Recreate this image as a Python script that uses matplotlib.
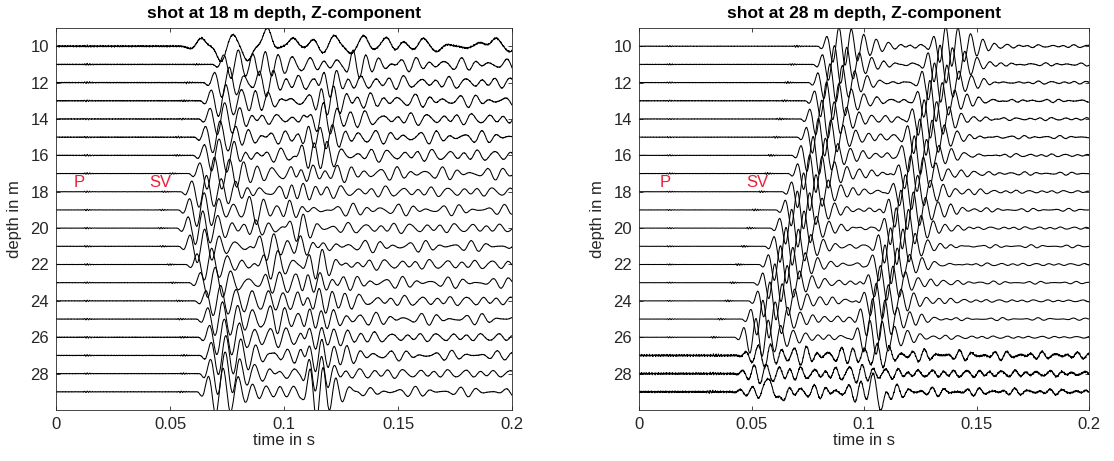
import numpy as np
import matplotlib.pyplot as plt

plt.rcParams['font.family'] = ['Liberation Sans', 'DejaVu Sans']

# receiver depths (m) and time axis (s)
depths = list(range(10, 30))
t = np.arange(0, 0.2, 1 / 20000)

# ---- shot at 18 m: picked times (s) and amplitudes (trace units) ----
left_sv_t = [0.0724, 0.070, 0.066, 0.0645, 0.064, 0.062, 0.0615, 0.0595, 0.056, 0.055,
             0.0544, 0.0552, 0.0583, 0.0598, 0.0622, 0.063, 0.0638, 0.0645, 0.0642, 0.0633]
left_sv_a = [0.0, 0.8, 0.85, 0.9, 0.9, 0.9, 0.9, 0.9, 0.9, 0.95,
             0.95, 0.95, 0.9, 0.85, 0.85, 0.95, 1.0, 1.1, 1.2, 1.3]
left_mid_t = [0.090, 0.088, 0.086, 0.084, 0.082, 0.080, 0.079, 0.078, 0.080, 0.082,
              0.084, 0.086, 0.088, 0.089, 0.090, 0.091, 0.092, 0.093, 0.094, 0.095]
left_mid_a = [0.0, 0.6, 0.6, 0.55, 0.5, 0.5, 0.5, 0.45, 0.45, 0.5,
              0.5, 0.5, 0.5, 0.5, 0.45, 0.4, 0.35, 0.3, 0.3, 0.3]
left_late_t = [0.130, 0.127, 0.1145, 0.113, 0.109, 0.1075, 0.105, 0.104, 0.100, 0.099,
               0.100, 0.104, 0.108, 0.107, 0.107, 0.108, 0.108, 0.108, 0.108, 0.1085]
left_late_a = [0.0, 0.8, 0.9, 0.9, 0.85, 0.8, 0.7, 0.6, 0.55, 0.55,
               0.5, 0.5, 0.55, 0.6, 0.7, 0.8, 0.9, 1.0, 1.1, 1.2]
left_coda_a = [0.0, 0.4, 0.4, 0.4, 0.4, 0.4, 0.4, 0.4, 0.35, 0.35,
               0.35, 0.35, 0.35, 0.35, 0.35, 0.35, 0.3, 0.3, 0.3, 0.3]
left_noise = [0.04, 0.02, 0.02, 0.02, 0.018, 0.018, 0.015, 0.01, 0.008, 0.008,
              0.008, 0.01, 0.01, 0.01, 0.012, 0.012, 0.015, 0.015, 0.012, 0.012]
# trace at 10 m picked peak by peak: times and deflections
left_top_t = [0.0595, 0.0636, 0.0724, 0.0775, 0.084, 0.0928, 0.0958, 0.104, 0.109, 0.113,
              0.117, 0.122, 0.1294, 0.135, 0.139, 0.145, 0.149, 0.152, 0.157, 0.161,
              0.167, 0.1716, 0.180, 0.186, 0.193, 0.199]
left_top_a = [0.15, -0.45, 0.85, -0.65, 0.8, -1.05, 0.2, -0.45, 0.1, -0.4,
              0.4, -0.6, 0.4, -0.6, 0.2, -0.5, 0.3, -0.3, 0.2, -0.45,
              0.3, -0.1, 0.1, -0.2, -0.45, 0.3]

# ---- shot at 28 m ----
right_sv_t = [0.0805, 0.0785, 0.0765, 0.075, 0.0729, 0.0714, 0.069, 0.0675, 0.0648, 0.062,
              0.0595, 0.057, 0.0545, 0.052, 0.0498, 0.0467, 0.0436, 0.0445, 0.043, 0.042]
right_sv_a = [1.05, 1.05, 1.05, 1.05, 1.05, 1.05, 1.05, 1.05, 1.05, 1.05,
              1.05, 1.05, 1.05, 1.05, 1.05, 1.05, 1.05, 0.4, 0.35, 0.25]
right_refl_t = [0.128, 0.1255, 0.123, 0.121, 0.1185, 0.1165, 0.114, 0.1125, 0.110, 0.108,
                0.106, 0.1035, 0.101, 0.099, 0.097, 0.0955, 0.0942, 0.092, 0.091, 0.090]
right_refl_a = [1.05, 1.05, 1.05, 1.05, 1.05, 1.05, 1.05, 1.05, 1.05, 1.05,
                1.05, 1.05, 1.05, 1.05, 1.05, 1.05, 1.05, 0.35, 0.35, 0.3]
right_coda_a = [0.15, 0.15, 0.15, 0.15, 0.15, 0.15, 0.15, 0.15, 0.15, 0.15,
                0.15, 0.15, 0.14, 0.14, 0.14, 0.14, 0.14, 0.5, 0.45, 0.4]
right_coda_dt = [0.025] * 17 + [0.004, 0.004, 0.006]
right_noise = [0.012, 0.012, 0.012, 0.015, 0.012, 0.012, 0.01, 0.01, 0.008, 0.008,
               0.006, 0.006, 0.006, 0.006, 0.006, 0.006, 0.006, 0.05, 0.05, 0.045]
# single big swings seen on the deepest trace (time, deflection)
right_bot_t = [0.0585, 0.0617, 0.1045, 0.1076]
right_bot_a = [-0.9, 0.75, -0.8, 1.0]


def wavelet(tt, t_dip, amp, f, ncyc):
    tau = np.clip(tt - (t_dip - 0.25 / f), 0, None)
    tp = ncyc / f
    env = (tau / tp) ** 2 * np.exp(2 * (1 - tau / tp))
    return amp * env * np.sin(2 * np.pi * f * tau)


def coda(tt, t0, amp, f, k, decay):
    tau = np.clip(tt - t0, 0, None)
    env = (1 - np.exp(-tau / 0.01)) * np.exp(-tau / decay)
    osc = (np.sin(2 * np.pi * f * tau + 0.7 * k)
           + 0.6 * np.sin(2 * np.pi * 0.71 * f * tau + 1.9 * k)
           + 0.4 * np.sin(2 * np.pi * 1.31 * f * tau + 2.7 * k))
    return amp * env * osc / 1.5


def hiss(tt, level, k):
    return level * (np.sin(2 * np.pi * 1730 * tt + k) + np.sin(2 * np.pi * 2390 * tt + 2.1 * k)
                    + np.sin(2 * np.pi * 3170 * tt + 3.3 * k) + 0.7 * np.sin(2 * np.pi * 910 * tt + 1.3 * k)) / 2.5


def bumps(tt, times, amps, w):
    out = np.zeros_like(tt)
    for tc, a in zip(times, amps):
        out += a * np.exp(-0.5 * ((tt - tc) / w) ** 2)
    return out


fig = plt.figure(figsize=(11.14, 4.61), dpi=100)
ax1 = fig.add_axes([0.0503, 0.1106, 0.4093, 0.8286])
ax2 = fig.add_axes([0.5736, 0.1106, 0.4040, 0.8286])

for k, d in enumerate(depths):
    y = hiss(t, left_noise[k], k)
    y += wavelet(t, left_sv_t[k], left_sv_a[k], 150, 1.6)
    y += wavelet(t, left_mid_t[k], left_mid_a[k], 160, 1.2)
    y += wavelet(t, left_late_t[k], left_late_a[k], 175, 1.4)
    y += coda(t, left_sv_t[k] + 0.01, left_coda_a[k], 150, k, 0.3)
    y += wavelet(t, 0.012, 0.04, 900, 1.5) + wavelet(t, left_sv_t[k] - 0.01, 0.04, 900, 1.5)
    if k == 0:
        y += bumps(t, left_top_t, left_top_a, 0.0018)
    ax1.plot(t, d + y, color='k', lw=0.75)

for k, d in enumerate(depths):
    y = hiss(t, right_noise[k], k)
    y += wavelet(t, right_sv_t[k], right_sv_a[k], 180, 2.0)
    y += wavelet(t, right_refl_t[k], right_refl_a[k], 180, 2.0)
    y += coda(t, right_sv_t[k] + right_coda_dt[k], right_coda_a[k], 190, k, 0.12)
    y += wavelet(t, 0.012, 0.03, 900, 1.5) + wavelet(t, right_sv_t[k] - 0.012, 0.05, 900, 1.5)
    if k == len(depths) - 1:
        y += bumps(t, right_bot_t, right_bot_a, 0.0014)
    ax2.plot(t, d + y, color='k', lw=0.75)

titles = ['shot at 18 m depth, Z-component', 'shot at 28 m depth, Z-component']
label_x = [(0.0075, 0.041), (0.009, 0.0475)]
for ax, ttl, (xp, xs) in zip([ax1, ax2], titles, label_x):
    ax.set_xlim(0, 0.2)
    ax.set_ylim(30, 9)
    ax.set_xticks([0, 0.05, 0.1, 0.15, 0.2])
    ax.set_xticklabels(['0', '0.05', '0.1', '0.15', '0.2'])
    ax.set_yticks(range(10, 30, 2))
    ax.tick_params(direction='in', top=True, right=True, labelsize=12, colors='#262626',
                   length=3, width=0.6, pad=5)
    for s in ax.spines.values():
        s.set_color('#262626')
        s.set_linewidth(0.6)
    ax.set_xlabel('time in s', fontsize=12, color='#262626', labelpad=1)
    ax.set_ylabel('depth in m', fontsize=12, color='#262626', labelpad=6)
    ax.set_title(ttl, fontsize=12.5, fontweight='bold', pad=7)
    ax.text(xp, 17.5, 'P', color='#e8203a', fontsize=12, va='center')
    ax.text(xs, 17.5, 'SV', color='#e8203a', fontsize=12, va='center')

fig.savefig('out.png', dpi=100)
